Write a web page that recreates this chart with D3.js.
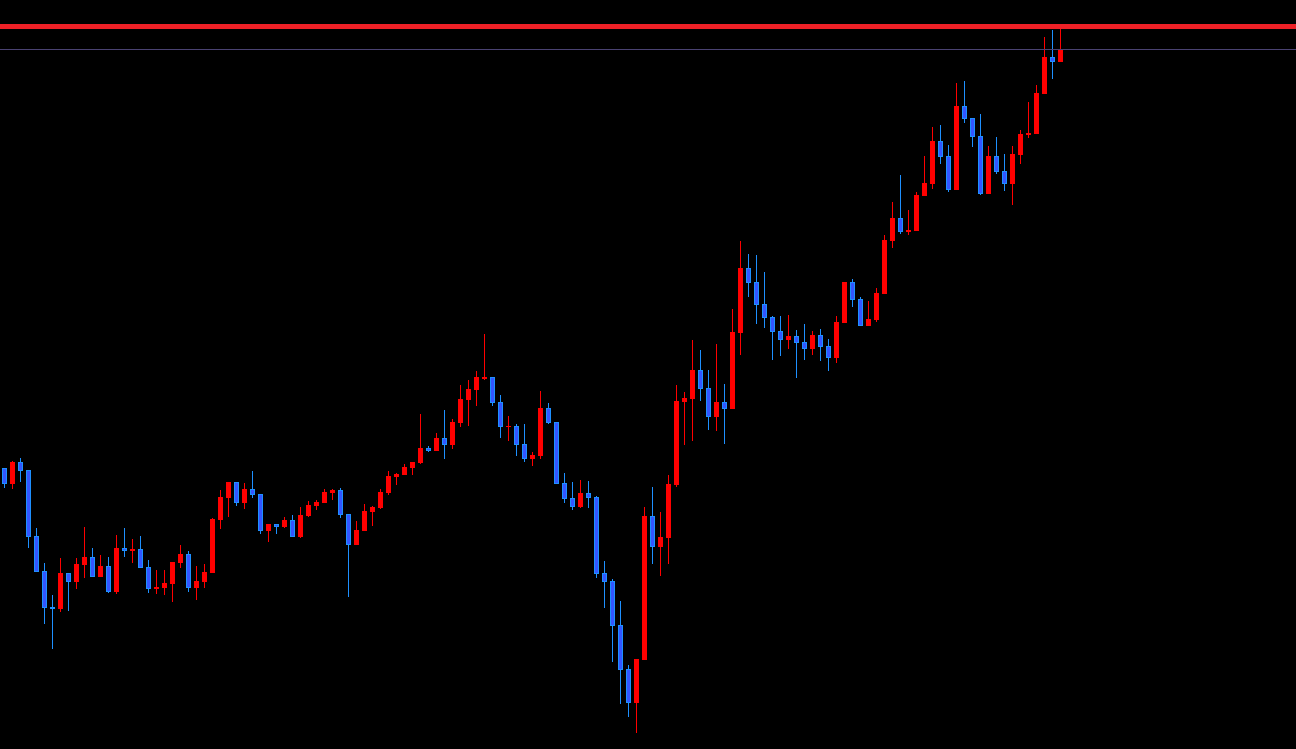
<!DOCTYPE html>
<html>
<head>
<meta charset="utf-8">
<script src="https://cdn.jsdelivr.net/npm/d3@7"></script>
<style>
html,body{margin:0;padding:0;background:#000;overflow:hidden;}
svg{display:block;}
</style>
</head>
<body>
<svg id="chart" width="1296" height="749"></svg>
<script>
// Price data (arbitrary price units), one entry per bar
const opens = [282,266,288,280,214,179,143,141,177,168,185,193,173,184,158,202,199,201,183,161,162,166,187,196,162,168,177,230,252,268,247,261,256,219,226,223,230,213,234,244,247,257,260,236,205,219,238,242,257,273,275,282,287,302,299,312,305,327,350,360,371,373,348,323,324,306,291,294,342,328,267,252,243,257,253,177,169,125,81,47,90,234,203,212,265,348,351,380,362,333,348,341,417,482,468,446,433,419,410,414,408,401,415,404,392,427,468,451,424,430,456,509,532,518,519,554,566,609,594,560,644,632,614,556,594,579,566,595,615,616,656,693,688];
const highs = [282,289,292,280,222,187,155,192,177,192,223,202,195,193,215,222,211,214,190,180,180,188,205,199,184,186,232,260,268,268,267,279,256,226,226,233,235,243,249,250,261,261,262,236,229,246,244,261,279,277,286,288,336,304,317,340,331,365,370,379,416,373,355,334,326,326,298,359,347,328,277,268,270,269,254,189,171,149,85,91,243,263,238,275,365,358,410,400,380,406,366,441,509,496,495,478,434,434,435,420,426,419,421,411,434,468,471,453,449,462,515,548,575,540,558,594,623,625,605,667,669,632,636,604,613,596,604,620,648,665,713,720,721];
const lows = [262,261,268,202,178,126,101,138,139,161,172,173,173,157,156,193,187,182,157,156,155,148,182,158,150,162,177,221,233,244,241,252,216,208,216,222,213,212,233,240,247,250,232,153,205,219,224,241,255,265,275,275,286,298,299,291,301,323,324,344,370,344,312,309,294,288,284,291,326,266,247,240,242,242,172,142,88,46,33,17,90,186,174,186,263,305,309,349,320,319,306,341,395,453,426,422,390,394,401,372,390,395,389,379,387,427,443,424,424,428,456,502,516,515,519,554,561,586,558,560,627,603,555,556,576,559,545,586,612,616,656,671,688];
const closes = [266,288,279,213,178,142,141,177,168,186,193,173,184,158,202,199,201,182,161,163,167,188,196,162,169,178,231,253,268,247,261,255,219,226,223,230,213,235,245,248,258,260,235,205,220,239,243,258,274,276,283,288,302,299,312,305,328,351,361,373,373,347,323,324,305,291,295,342,327,266,251,243,257,252,176,168,124,80,47,91,234,203,213,266,349,352,380,361,333,348,341,418,482,467,445,432,418,410,414,407,401,415,403,392,428,468,450,424,431,457,510,532,518,520,555,567,609,593,560,644,631,613,556,594,578,566,596,616,617,657,693,688,701];
// Horizontal levels
const levelRed = 723.5;
const levelGray = 700.5;

const W = 1296, H = 749;
const svg = d3.select("#chart");
svg.append("rect").attr("width", W).attr("height", H).attr("fill", "#000");

const bars = opens.map((o, i) => ({i, o, h: highs[i], l: lows[i], c: closes[i]}));

const x = d3.scaleLinear().domain([0, bars.length - 1]).range([4.5, 4.5 + 8 * (bars.length - 1)]);
const y = d3.scaleLinear().domain([0, 750]).range([750, 0]);

const UP = "#ff0000", DOWN_EDGE = "#1e90ff", DOWN_FILL = "#3355ff";
const bw = 5;

const g = svg.append("g");

// wicks
g.selectAll("line.wick").data(bars).join("line")
  .attr("class", "wick")
  .attr("x1", d => x(d.i)).attr("x2", d => x(d.i))
  .attr("y1", d => y(d.h)).attr("y2", d => y(d.l))
  .attr("stroke", d => d.c >= d.o ? UP : DOWN_EDGE)
  .attr("stroke-width", 1)
  .attr("shape-rendering", "crispEdges");

// bodies
g.selectAll("rect.body").data(bars).join("rect")
  .attr("class", "body")
  .attr("x", d => x(d.i) - bw / 2)
  .attr("width", bw)
  .attr("y", d => y(Math.max(d.o, d.c)))
  .attr("height", d => Math.max(1, Math.abs(y(d.o) - y(d.c))))
  .attr("fill", d => d.c >= d.o ? UP : DOWN_EDGE)
  .attr("shape-rendering", "crispEdges");

// inner fill of bearish bodies
g.selectAll("rect.inner").data(bars.filter(d => d.c < d.o && Math.abs(y(d.o) - y(d.c)) > 2)).join("rect")
  .attr("class", "inner")
  .attr("x", d => x(d.i) - bw / 2 + 1)
  .attr("width", bw - 2)
  .attr("y", d => y(d.o) + 1)
  .attr("height", d => Math.abs(y(d.o) - y(d.c)) - 2)
  .attr("fill", DOWN_FILL)
  .attr("shape-rendering", "crispEdges");

// horizontal level lines
svg.append("line")
  .attr("x1", 0).attr("x2", W)
  .attr("y1", y(levelGray)).attr("y2", y(levelGray))
  .attr("stroke", "#4a4272").attr("stroke-width", 1)
  .attr("shape-rendering", "crispEdges");
svg.append("line")
  .attr("x1", 0).attr("x2", W)
  .attr("y1", y(levelRed)).attr("y2", y(levelRed))
  .attr("stroke", "#ee2026").attr("stroke-width", 5)
  .attr("shape-rendering", "crispEdges");
</script>
</body>
</html>
